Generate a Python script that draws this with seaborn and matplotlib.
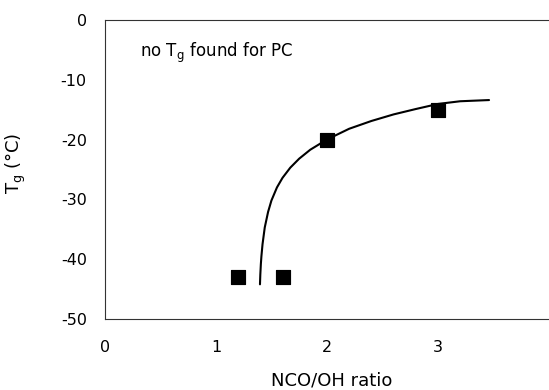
import pandas as pd
import seaborn as sns
import matplotlib.pyplot as plt

# measured points
ratio = [1.2, 1.6, 2.0, 3.0]
tg = [-43, -43, -20, -15]

# trend curve
curve_x = [1.397, 1.400, 1.405, 1.410, 1.420, 1.440, 1.470, 1.500, 1.550, 1.600, 1.670,
           1.750, 1.850, 2.000, 2.200, 2.400, 2.600, 2.800, 3.000, 3.200, 3.460]
curve_y = [-44.2, -42.6, -40.8, -39.5, -37.5, -34.7, -32.1, -30.2, -28.0, -26.4, -24.7,
           -23.2, -21.7, -20.0, -18.2, -16.9, -15.8, -14.9, -14.05, -13.6, -13.4]

pts = pd.DataFrame({"ratio": ratio, "tg": tg})
curve = pd.DataFrame({"x": curve_x, "y": curve_y})

sns.set_style("white")
plt.rcParams["font.family"] = ["DejaVu Sans"]
plt.rcParams["axes.unicode_minus"] = False
for key in ["text.color", "axes.labelcolor", "xtick.color", "ytick.color"]:
    plt.rcParams[key] = "black"

fig = plt.figure(figsize=(5.49, 3.90), dpi=100)
ax = fig.add_axes([0.191, 0.182, 0.809, 0.767])

sns.lineplot(data=curve, x="x", y="y", sort=False, color="black", lw=1.5, ax=ax)
sns.scatterplot(data=pts, x="ratio", y="tg", marker="s", s=110, color="black",
                edgecolor="black", zorder=3, ax=ax)

ax.set_xlim(0, 4)
ax.set_ylim(-50, 0)
ax.set_xticks([0, 1, 2, 3])
ax.set_yticks([0, -10, -20, -30, -40, -50])
ax.tick_params(direction="in", length=4, width=0.8, labelsize=11.5, colors="black")
ax.tick_params(axis="x", pad=15)
ax.tick_params(axis="y", pad=13)

for side in ["left", "bottom", "top"]:
    ax.spines[side].set_visible(True)
    ax.spines[side].set_color("#333333")
    ax.spines[side].set_linewidth(0.8)
ax.spines["right"].set_visible(False)

ax.set_xlabel("NCO/OH ratio", fontsize=13, va="center", color="black")
ax.xaxis.set_label_coords(0.51, -0.205)
ax.set_ylabel("T$_\\mathregular{g}$ (°C)", fontsize=13, va="center", color="black")
ax.yaxis.set_label_coords(-0.2, 0.52)
ax.text(0.32, -5.5, "no T$_\\mathregular{g}$ found for PC", fontsize=12, va="center", color="black")

fig.savefig("out.png", dpi=100)
